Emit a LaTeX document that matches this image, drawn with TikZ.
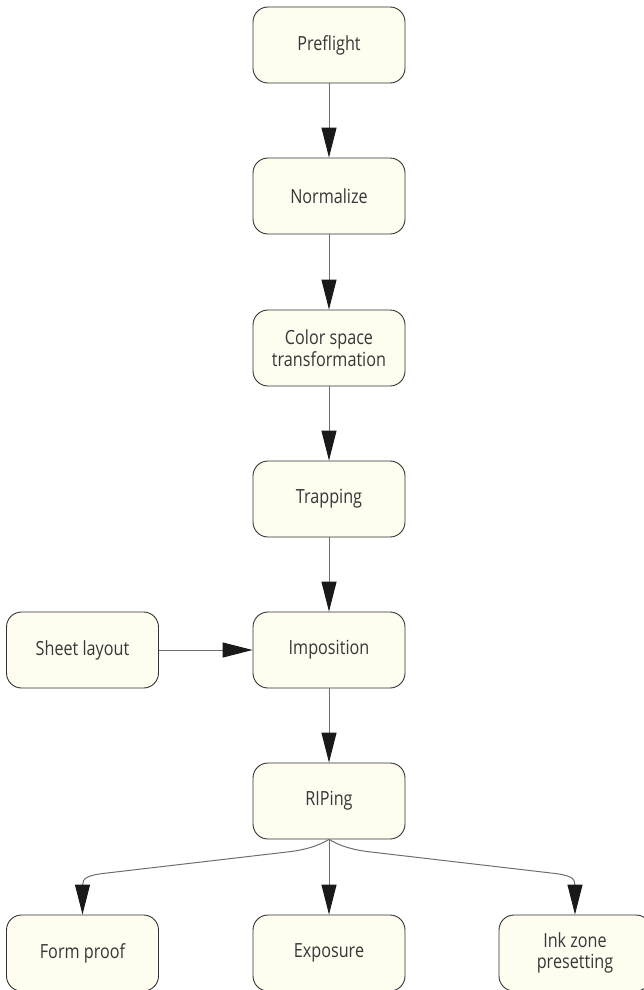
\documentclass[tikz,border=0pt]{standalone}
\usepackage{fontspec}
\setmainfont{Open Sans}[FakeStretch=0.83]
\usetikzlibrary{arrows.meta}

\definecolor{boxfill}{RGB}{255,253,240}
\definecolor{boxline}{RGB}{50,50,50}
\definecolor{edgeline}{RGB}{110,110,110}
\definecolor{tipcol}{RGB}{25,25,25}
\definecolor{txt}{RGB}{55,55,55}

\tikzset{
  stepbox/.style={draw=boxline, fill=boxfill, line width=0.9pt,
    rounded corners=15pt, minimum width=152pt, minimum height=76pt,
    inner sep=0pt, align=center, text=txt,
    font=\fontsize{19.5}{21.5}\selectfont},
  flow/.style={draw=edgeline, line width=1pt,
    -{Triangle[length=30pt,width=15pt,color=tipcol]}},
}

\begin{document}
\begin{tikzpicture}[x=1pt,y=-1pt]
  \useasboundingbox (0,0) rectangle (644,990);
  \clip (0,0) rectangle (644,990);

  % main column
  \node[stepbox] (pre) at (329,45)  {Preflight};
  \node[stepbox] (nor) at (329,196) {Normalize};
  \node[stepbox] (col) at (329,348) {Color space\\transformation};
  \node[stepbox] (tra) at (329,499) {Trapping};
  \node[stepbox] (imp) at (329,650) {Imposition};
  \node[stepbox] (rip) at (329,801) {RIPing};

  % side input
  \node[stepbox] (she) at (82.5,650) {Sheet layout};

  % outputs
  \node[stepbox] (frm) at (82.5,953) {Form proof};
  \node[stepbox] (exp) at (329,953)  {Exposure};
  \node[stepbox] (ink) at (575,953)  {Ink zone\\presetting};

  \draw[flow] (pre) -- (nor);
  \draw[flow] (nor) -- (col);
  \draw[flow] (col) -- (tra);
  \draw[flow] (tra) -- (imp);
  \draw[flow] (imp) -- (rip);
  \draw[flow] (she) -- (imp);
  \draw[flow] (rip) -- (exp);

  \draw[flow] (rip.south) .. controls (318,846) and (305,850) .. (287,852)
    -- (107,873) .. controls (88,875) and (82.5,878) .. (frm.north);
  \draw[flow] (rip.south) .. controls (340,846) and (353,850) .. (371,852)
    -- (551,873) .. controls (570,875) and (575,878) .. (ink.north);
\end{tikzpicture}
\end{document}
